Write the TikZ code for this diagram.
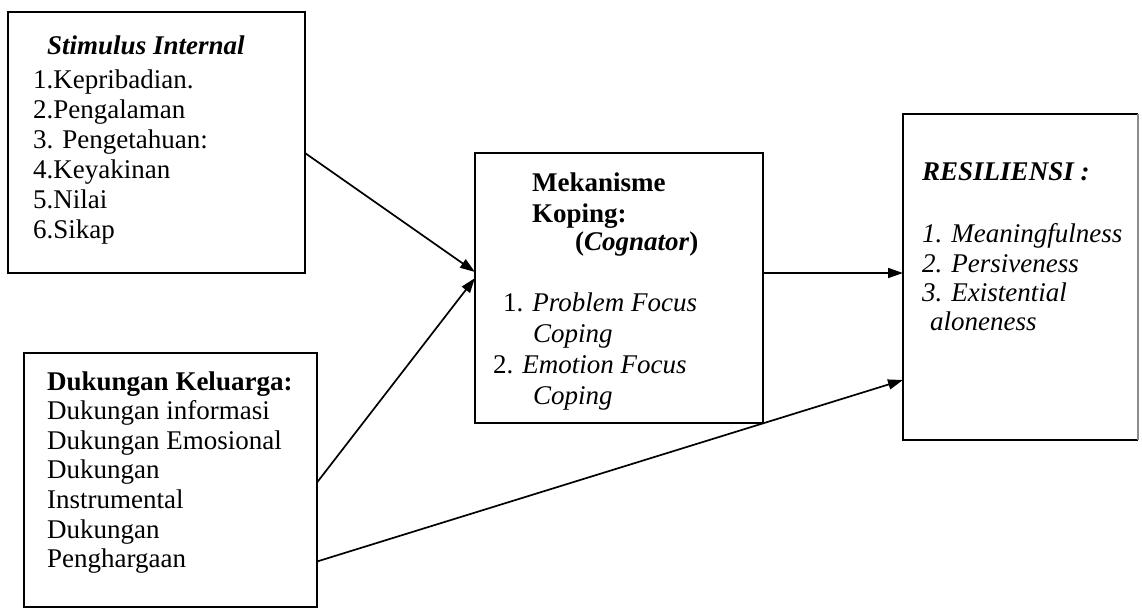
\documentclass[tikz,border=0pt]{standalone}
\usepackage{fontspec}
\setmainfont{Liberation Serif}
\usetikzlibrary{arrows.meta}
\begin{document}
\begin{tikzpicture}[x=1pt,y=-1pt,
  box/.style={line width=2.2pt, inner sep=0pt, outer sep=0pt, anchor=north west},
  txt/.style={anchor=base west, inner sep=0pt, font=\fontsize{27}{30}\selectfont},
  link/.style={line width=1.7pt, -{Triangle[length=15pt,width=10pt]}}]
\useasboundingbox[fill=white] (0,0) rectangle (1142,610);

% boxes
\node[box, draw, minimum width=297pt, minimum height=261pt] (stim) at (8,12) {};
\node[box, draw, minimum width=293pt, minimum height=254pt] (duk) at (24,353) {};
\node[box, draw, minimum width=288pt, minimum height=270pt] (mek) at (475,153) {};
\node[box, minimum width=235pt, minimum height=326pt] (res) at (903,114) {};
\draw[line width=2.2pt] (res.north east) -- (res.north west) -- (res.south west) -- (res.south east);
\draw[line width=1.4pt, black!45] (res.north east) -- (res.south east);

% internal stimulus
\node[txt] (s0) at (47,55) {\textbf{\textit{Stimulus Internal}}};
\node[txt] (s1) at (33,88) {1.Kepribadian.};
\node[txt] (s2) at (33,118) {2.Pengalaman};
\node[txt] (s3) at (33,148) {3. Pengetahuan:};
\node[txt] (s4) at (33,178) {4.Keyakinan};
\node[txt] (s5) at (33,208) {5.Nilai};
\node[txt] (s6) at (33,238) {6.Sikap};

% family support
\node[txt] (d0) at (47,390) {\textbf{Dukungan Keluarga:}};
\node[txt] (d1) at (47,419.6) {Dukungan informasi};
\node[txt] (d2) at (47,449.2) {Dukungan Emosional};
\node[txt] (d3) at (47,478.8) {Dukungan};
\node[txt] (d4) at (47,508.4) {Instrumental};
\node[txt] (d5) at (47,538) {Dukungan};
\node[txt] (d6) at (47,567.6) {Penghargaan};

% coping mechanism
\node[txt] (m0) at (532,191) {\textbf{Mekanisme}};
\node[txt] (m1) at (532,222) {\textbf{Koping:}};
\node[txt] (m2) at (575,250) {\textbf{(\textit{Cognator})}};
\node[txt] (m3) at (503,311) {1. \textit{Problem Focus}};
\node[txt] (m4) at (533,342) {\textit{Coping}};
\node[txt] (m5) at (493,373) {2. \textit{Emotion Focus}};
\node[txt] (m6) at (533,404) {\textit{Coping}};

% resilience
\node[txt] (r0) at (922,180) {\textbf{\textit{RESILIENSI :}}};
\node[txt] (r1) at (922,242) {\textit{1. Meaningfulness}};
\node[txt] (r2) at (922,272) {\textit{2. Persiveness}};
\node[txt] (r3) at (922,301) {\textit{3. Existential}};
\node[txt] (r4) at (930,330) {\textit{aloneness}};

% connectors
\draw[link] ([yshift=-10.5pt]stim.east) -- ([yshift=16pt]mek.west);
\draw[link] ([yshift=-2.5pt]duk.east) -- ([yshift=10pt]mek.west);
\draw[link] ([yshift=15pt]mek.east) -- ([yshift=4pt]res.west);
\draw[link] ([yshift=-81.5pt]duk.east) -- ([yshift=-103pt]res.west);
\end{tikzpicture}
\end{document}
